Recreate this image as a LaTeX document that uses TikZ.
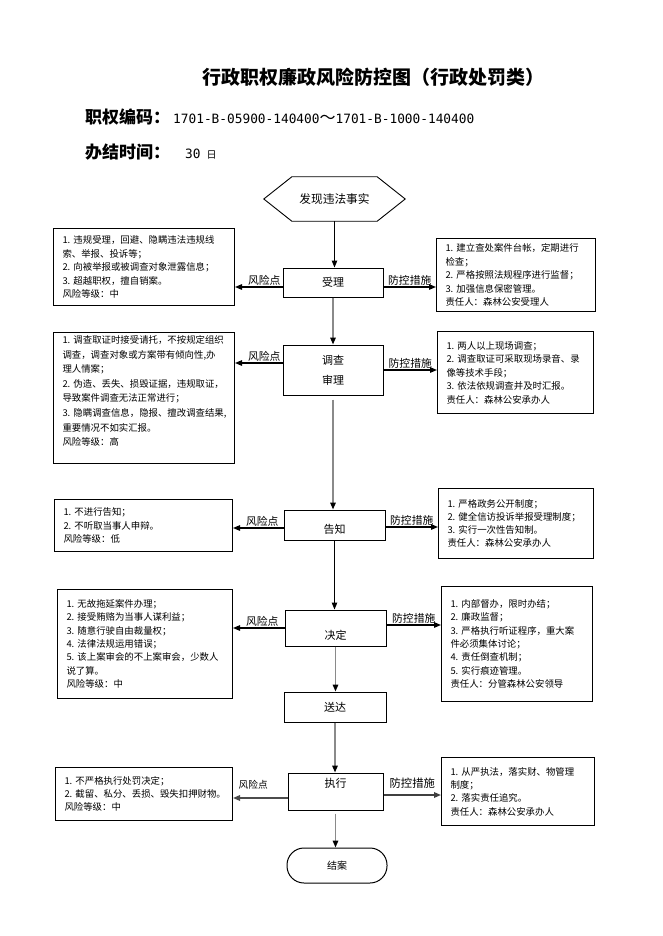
\documentclass[tikz,border=0pt]{standalone}
\usepackage{fontspec}
\setmainfont{Noto Sans CJK SC}
\newfontfamily\codefont{DejaVu Sans Mono}
\usetikzlibrary{arrows.meta,calc}

\definecolor{flowgray}{HTML}{8A8A8A}

\tikzset{
    procbox/.style={draw, line width=1pt, inner sep=2pt, font=\fontsize{11}{13}\selectfont},
    sidebox/.style={draw, line width=1pt, anchor=north west, align=left, inner xsep=9pt, inner ysep=2pt, font=\fontsize{9.4}{13.5}\selectfont},
    flow/.style={line width=1pt, -{Triangle[length=7pt,width=5.5pt]}},
    grayflow/.style={line width=1.5pt, draw=flowgray, -{Triangle[length=7pt,width=5.5pt,color=black]}},
    sidearrow/.style={line width=1.2pt, -{Triangle[length=7pt,width=5.5pt]}},
    tag/.style={inner sep=1.5pt, font=\fontsize{10.8}{12}\selectfont}
}

\begin{document}
\begin{tikzpicture}[x=1pt, y=-1pt]
    \useasboundingbox (0, 0) rectangle (662, 936);

    \node[anchor=west, inner sep=0, font=\bfseries\fontsize{19}{19}\selectfont] (title) at (202, 77) {行政职权廉政风险防控图（行政处罚类）};
    \node[anchor=west, inner sep=0] (code) at (85, 117) {{\bfseries\fontsize{17}{17}\selectfont 职权编码：}\hspace{3pt}{\codefont\fontsize{12.8}{13}\selectfont 1701-B-05900-140400}{\fontsize{16}{16}\selectfont ～}{\codefont\fontsize{12.8}{13}\selectfont 1701-B-1000-140400}};
    \node[anchor=west, inner sep=0] (time) at (85, 152) {{\bfseries\fontsize{17}{17}\selectfont 办结时间：}\hspace{15pt}{\codefont\fontsize{12.8}{13}\selectfont 30}\hspace{6pt}{\fontsize{10}{10}\selectfont 日}};

    \node[minimum width=141pt, minimum height=44pt, inner sep=0, font=\fontsize{11.7}{13}\selectfont] (find) at (334.5, 199) {发现违法事实};
    \draw[line width=0.9pt] ([xshift=28pt]find.north west) -- ([xshift=-28pt]find.north east) -- (find.east) -- ([xshift=-28pt]find.south east) -- ([xshift=28pt]find.south west) -- (find.west) -- cycle;

    \node[procbox, minimum width=100pt, minimum height=29pt] (accept) at (333, 282.5) {受理};
    \node[procbox, minimum width=100pt, minimum height=50pt, align=center, font=\fontsize{11}{20}\selectfont] (inv) at (333, 370) {调查\\审理};
    \node[procbox, minimum width=101pt, minimum height=30pt, text height=16pt, text depth=0pt] (notify) at (334.5, 525) {告知};
    \node[procbox, minimum width=101pt, minimum height=36pt, text height=22pt, text depth=0pt] (decide) at (335.5, 628) {决定};
    \node[procbox, minimum width=102pt, minimum height=30pt] (serve) at (335, 707) {送达};
    \node[procbox, minimum width=95pt, minimum height=37pt, text height=0pt, text depth=8.6pt] (exec) at (335.5, 791.5) {执行};
    \node[procbox, minimum width=100pt, minimum height=35pt, rounded corners=17pt, font=\fontsize{10}{12}\selectfont] (close) at (337, 865.5) {结案};

    \node[sidebox, minimum width=181pt, minimum height=77pt, text width=163pt] (r1) at (53, 228) {1.~违规受理，回避、隐瞒违法违规线\\索、举报、投诉等；\\2.~向被举报或被调查对象泄露信息；\\3.~超越职权，擅自销案。\\风险等级：中};
    \node[sidebox, minimum width=181pt, minimum height=131pt, text width=163pt, font=\fontsize{9.4}{14.6}\selectfont] (r2) at (53, 332) {1.~调查取证时接受请托，不按规定组织\\调查，调查对象或方案带有倾向性,办\\理人情案；\\2.~伪造、丢失、损毁证据，违规取证，\\导致案件调查无法正常进行；\\3.~隐瞒调查信息，隐报、擅改调查结果,\\重要情况不如实汇报。\\风险等级：高\\\mbox{}};
    \node[sidebox, minimum width=178pt, minimum height=52pt, text width=160pt] (r3) at (54, 499) {1.~不进行告知；\\2.~不听取当事人申辩。\\风险等级：低};
    \node[sidebox, minimum width=175pt, minimum height=109pt, text width=157pt, font=\fontsize{9.4}{13.3}\selectfont] (r4) at (57, 589) {1.~无故拖延案件办理；\\2.~接受贿赂为当事人谋利益；\\3.~随意行驶自由裁量权；\\4.~法律法规运用错误；\\5.~该上案审会的不上案审会，少数人\\说了算。\\风险等级：中};
    \node[sidebox, minimum width=177pt, minimum height=53pt, text width=159pt, font=\fontsize{9.4}{13}\selectfont] (r5) at (55, 767) {1.~不严格执行处罚决定；\\2.~截留、私分、丢损、毁失扣押财物。\\风险等级：中};

    \node[sidebox, minimum width=159pt, minimum height=73pt, text width=141pt] (c1) at (436, 238) {1.~建立查处案件台帐，定期进行\\检查；\\2.~严格按照法规程序进行监督；\\3.~加强信息保密管理。\\责任人：森林公安受理人};
    \node[sidebox, minimum width=156pt, minimum height=82pt, text width=138pt] (c2) at (437, 331) {1.~两人以上现场调查；\\2.~调查取证可采取现场录音、录\\像等技术手段；\\3.~依法依规调查并及时汇报。\\责任人：森林公安承办人};
    \node[sidebox, minimum width=155pt, minimum height=70pt, text width=137pt, font=\fontsize{9.4}{13}\selectfont] (c3) at (438, 488) {1.~严格政务公开制度；\\2.~健全信访投诉举报受理制度；\\3.~实行一次性告知制。\\责任人：森林公安承办人};
    \node[sidebox, minimum width=151pt, minimum height=115pt, text width=133pt, font=\fontsize{9.4}{13.3}\selectfont] (c4) at (441, 586) {1.~内部督办，限时办结；\\2.~廉政监督；\\3.~严格执行听证程序，重大案\\件必须集体讨论；\\4.~责任倒查机制；\\5.~实行痕迹管理。\\责任人：分管森林公安领导};
    \node[sidebox, minimum width=153pt, minimum height=68pt, text width=135pt, font=\fontsize{9.4}{13.3}\selectfont] (c5) at (441, 757) {1.~从严执法，落实财、物管理\\制度；\\2.~落实责任追究。\\责任人：森林公安承办人};

    \draw[flow] (find.south) -- (find.south |- accept.north);
    \draw[grayflow] (accept.south) -- (accept.south |- inv.north);
    \draw[grayflow, shorten <=4pt] (inv.south) -- (inv.south |- notify.north);
    \draw[flow] (notify.south) -- (notify.south |- decide.north);
    \draw[grayflow] (decide.south) -- (decide.south |- serve.north);
    \draw[grayflow] (serve.south) -- (serve.south |- exec.north);
    \draw[grayflow, shorten <=3pt] (exec.south) -- (exec.south |- close.north);

    \draw[sidearrow] ($(accept.west)+(0, 4.5)$) -- ($(accept.west -| r1.east)+(0, 4.5)$) node[tag, pos=0, anchor=south east] {风险点};
    \draw[sidearrow] ($(accept.east)+(0, 4.5)$) -- ($(accept.east -| c1.west)+(0, 4.5)$) node[tag, midway, above] {防控措施};

    \draw[sidearrow] ($(inv.west)+(0, -7)$) -- ($(inv.west -| r2.east)+(0, -7)$) node[tag, pos=0, anchor=south east] {风险点};
    \draw[sidearrow] (inv.east) -- (inv.east -| c2.west) node[tag, midway, above] {防控措施};

    \draw[sidearrow] ($(notify.west)+(0, 3)$) -- ($(notify.west -| r3.east)+(0, 3)$) node[tag, pos=0, anchor=south east, xshift=-3pt] {风险点};
    \draw[sidearrow] ($(notify.east)+(0, 2)$) -- ($(notify.east -| c3.west)+(0, 2)$) node[tag, midway, above] {防控措施};

    \draw[sidearrow] (decide.west) -- (decide.west -| r4.east) node[tag, pos=0, anchor=south east, xshift=-4pt] {风险点};
    \draw[sidearrow] ($(decide.east)+(0, -3)$) -- ($(decide.east -| c4.west)+(0, -3)$) node[tag, midway, above] {防控措施};

    \draw[sidearrow, line width=1.6pt, draw=black!70] ($(exec.west)+(0, 6.5)$) -- ($(exec.west -| r5.east)+(0, 6.5)$) node[tag, pos=0.63, above=6pt, font=\fontsize{9.7}{11}\selectfont] {风险点};
    \draw[sidearrow, line width=1.6pt, draw=black!75] ($(exec.east)+(0, 3.5)$) -- ($(exec.east -| c5.west)+(0, 3.5)$) node[tag, midway, above=4pt, font=\fontsize{11.3}{13}\selectfont] {防控措施};
\end{tikzpicture}
\end{document}
